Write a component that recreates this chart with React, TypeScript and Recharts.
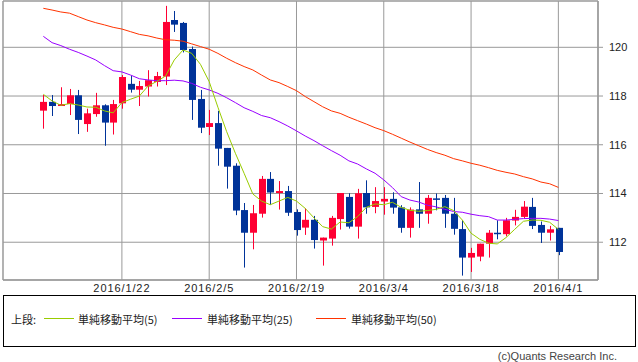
import React from 'react';
import {
  ComposedChart, Bar, Line, XAxis, YAxis, CartesianGrid, ReferenceArea,
} from 'recharts';

// ---- data (USD/JPY daily, 2016) ----
const dates = [
  '1/11','1/12','1/13','1/14','1/15','1/18','1/19','1/20','1/21','1/22',
  '1/25','1/26','1/27','1/28','1/29','2/1','2/2','2/3','2/4','2/5',
  '2/8','2/9','2/10','2/11','2/12','2/15','2/16','2/17','2/18','2/19',
  '2/22','2/23','2/24','2/25','2/26','2/29','3/1','3/2','3/3','3/4',
  '3/7','3/8','3/9','3/10','3/11','3/14','3/15','3/16','3/17','3/18',
  '3/21','3/22','3/23','3/24','3/25','3/28','3/29','3/30','3/31','4/1',
];
const openV = [
  117.40,117.76,117.59,117.67,118.03,116.85,117.26,117.62,116.91,117.70,
  118.50,118.26,118.39,118.58,118.80,121.12,121.00,119.93,117.88,116.73,
  116.89,115.87,115.14,113.32,112.39,113.17,114.60,114.02,114.10,113.24,
  112.60,112.92,112.07,112.15,112.95,113.86,112.64,114.02,113.45,113.67,
  113.78,113.43,112.59,113.35,113.17,113.80,113.82,113.17,112.54,111.37,
  111.41,111.94,112.39,112.33,112.89,113.04,113.45,112.71,112.39,112.59,
];
const highV = [
  118.04,118.04,118.36,118.29,118.25,117.48,118.13,117.66,117.84,118.86,
  118.82,118.62,119.06,118.99,121.70,121.49,121.04,120.03,118.25,117.43,
  117.39,115.87,115.24,113.61,113.53,114.72,114.88,114.51,114.31,113.35,
  113.39,113.08,112.19,113.08,114.02,114.01,114.19,114.54,114.26,114.26,
  114.05,113.52,113.43,114.47,113.94,114.00,113.94,113.82,112.90,111.77,
  111.94,112.50,112.90,113.00,113.33,113.69,113.82,112.85,112.67,112.59,
];
const lowV = [
  116.66,117.18,117.59,117.22,116.44,116.53,117.15,115.96,116.42,117.48,
  118.14,117.59,117.98,118.39,118.45,120.63,119.79,117.02,116.48,116.40,
  115.14,114.20,113.11,110.96,111.71,113.01,113.54,113.34,113.08,112.27,
  112.30,111.74,111.04,111.86,112.52,112.56,112.15,113.17,113.19,113.13,
  113.17,112.39,112.19,112.59,112.76,113.31,112.59,112.31,110.63,110.78,
  111.22,111.37,112.12,112.24,112.69,112.98,112.54,111.97,112.07,111.47,
];
const closeV = [
  117.76,117.59,117.67,118.03,117.02,117.29,117.62,116.91,117.67,118.78,
  118.26,118.41,118.65,118.82,121.04,120.93,119.89,117.84,116.70,116.89,
  115.84,115.10,113.30,112.39,113.19,114.60,114.04,114.10,113.21,112.50,
  112.92,112.09,112.19,113.00,114.02,112.64,114.01,113.43,113.69,113.78,
  113.42,112.59,113.34,113.17,113.82,113.78,113.17,112.55,111.37,111.56,
  111.94,112.39,112.37,112.90,113.04,113.46,112.67,112.39,112.53,111.60,
];
const ma5 = [
  118.07,117.80,117.62,117.69,117.63,117.55,117.54,117.39,117.31,117.73,
  117.87,118.00,118.41,118.60,118.82,119.48,119.89,119.75,119.30,118.59,
  117.54,116.54,115.65,114.83,113.98,113.69,113.54,113.69,113.84,113.69,
  113.39,113.00,112.64,112.54,112.83,112.80,113.05,113.43,113.57,113.54,
  113.64,113.43,113.31,113.27,113.30,113.35,113.46,113.30,112.91,112.37,
  112.12,111.96,111.93,112.19,112.53,112.86,112.91,112.90,112.82,112.53,
];
const ma25 = [
  120.45,120.19,120.07,119.92,119.79,119.64,119.48,119.25,119.04,118.99,
  118.86,118.71,118.66,118.63,118.63,118.65,118.62,118.52,118.36,118.25,
  118.11,117.93,117.73,117.52,117.37,117.20,117.11,116.95,116.77,116.57,
  116.36,116.17,115.96,115.76,115.57,115.34,115.21,115.01,114.83,114.56,
  114.24,113.87,113.73,113.65,113.52,113.45,113.35,113.26,113.23,113.15,
  113.09,113.05,112.91,112.91,112.94,112.97,112.98,112.98,112.95,112.89,
];
const ma50 = [
  121.60,121.53,121.45,121.40,121.26,121.12,121.01,120.92,120.82,120.75,
  120.64,120.53,120.47,120.38,120.31,120.29,120.25,120.14,120.03,119.92,
  119.75,119.55,119.37,119.21,119.07,118.86,118.66,118.55,118.39,118.22,
  117.98,117.77,117.56,117.39,117.29,117.13,116.99,116.85,116.70,116.58,
  116.43,116.27,116.11,115.96,115.81,115.68,115.57,115.43,115.34,115.24,
  115.16,115.06,114.95,114.87,114.80,114.69,114.60,114.47,114.40,114.25,
];
const xTickIdx = [9, 19, 29, 39, 49, 59];
const yTicks = [112, 114, 116, 118, 120];
const legendLabels = ['単純移動平均(5)', '単純移動平均(25)', '単純移動平均(50)'];

const X_MIN = -4.62;
const X_MAX = 63.54;
const Y_MIN = 110.45;
const Y_MAX = 121.90;

const UP = '#FF0033';
const DOWN = '#003399';
const C5 = '#99CC00';
const C25 = '#9900FF';
const C50 = '#FF3300';
const GRID = '#999999';

const data = dates.map((d, i) => ({
  i,
  date: d,
  open: openV[i],
  high: highV[i],
  low: lowV[i],
  close: closeV[i],
  ma5: ma5[i],
  ma25: ma25[i],
  ma50: ma50[i],
}));

const Candle = (props: any) => {
  const { x, y, width, height, payload } = props;
  if (x == null || y == null || !payload) return null;
  const top = Math.min(y, y + height);
  const bot = Math.max(y, y + height);
  const range = payload.high - payload.low;
  const ppu = range > 0 ? (bot - top) / range : 0;
  const cx = Math.round(x + width / 2) + 0.5;
  const yO = top + (payload.high - payload.open) * ppu;
  const yC = top + (payload.high - payload.close) * ppu;
  const up = payload.close >= payload.open;
  const col = up ? UP : DOWN;
  const bTop = Math.min(yO, yC);
  const bH = Math.max(1.5, Math.abs(yO - yC));
  return (
    <g>
      <line x1={cx} x2={cx} y1={top} y2={bot} stroke={col} strokeWidth={1} />
      <rect x={cx - 3.5} y={bTop} width={7} height={bH} fill={col} />
    </g>
  );
};

const XTick = (p: any) => {
  const v = p.payload?.value;
  return (
    <text
      x={p.x}
      y={p.y}
      dy={9}
      textAnchor="middle"
      fontSize={11}
      fontFamily="Liberation Sans, Arial, sans-serif"
      letterSpacing={0.9}
      fill="#222"
    >
      {'2016/' + dates[v]}
    </text>
  );
};

export default function App() {
  return (
    <div
      style={{
        position: 'absolute',
        left: 0,
        top: 0,
        width: 638,
        height: 362,
        background: '#fff',
        fontFamily: '"Noto Sans CJK JP", "Liberation Sans", sans-serif',
      }}
    >
      <ComposedChart
        width={638}
        height={300}
        data={data}
        margin={{ top: 1, right: 0, left: 3, bottom: 0 }}
      >
        <CartesianGrid stroke={GRID} strokeWidth={1} />
        <XAxis
          type="number"
          dataKey="i"
          domain={[X_MIN, X_MAX]}
          allowDataOverflow
          ticks={xTickIdx}
          tick={<XTick />}
          tickLine={false}
          tickSize={0}
          tickMargin={3}
          axisLine={{ stroke: GRID }}
          height={20}
          interval={0}
        />
        <YAxis
          orientation="right"
          type="number"
          domain={[Y_MIN, Y_MAX]}
          allowDataOverflow
          ticks={yTicks}
          width={40}
          tickSize={5}
          tickMargin={6}
          tickLine={{ stroke: GRID }}
          axisLine={{ stroke: GRID }}
          tick={{ fontSize: 11, fill: '#222', fontFamily: 'Liberation Sans, Arial, sans-serif' }}
          interval={0}
        />
        <ReferenceArea
          x1={X_MIN}
          x2={X_MAX}
          y1={Y_MIN}
          y2={Y_MAX}
          fill="none"
          fillOpacity={0}
          stroke={GRID}
          strokeOpacity={1}
        />
        <Bar
          dataKey={(d: any) => [d.low, d.high]}
          barSize={7}
          shape={<Candle />}
          isAnimationActive={false}
        />
        <Line type="linear" dataKey="ma50" stroke={C50} strokeWidth={1} dot={false} isAnimationActive={false} />
        <Line type="linear" dataKey="ma25" stroke={C25} strokeWidth={1} dot={false} isAnimationActive={false} />
        <Line type="linear" dataKey="ma5" stroke={C5} strokeWidth={1} dot={false} isAnimationActive={false} />
      </ComposedChart>

      <div
        style={{
          position: 'absolute',
          left: 3,
          top: 295,
          width: 631,
          height: 50,
          border: '1px solid #000',
          fontSize: 11,
          color: '#222',
        }}
      >
        <span style={{ position: 'absolute', left: 7, top: 16, lineHeight: '14px' }}>上段:</span>
        {[
          { l: 40, t: 74, c: C5 },
          { l: 168, t: 203, c: C25 },
          { l: 312, t: 347, c: C50 },
        ].map((it, k) => (
          <React.Fragment key={k}>
            <div
              style={{
                position: 'absolute',
                left: it.l,
                top: 22,
                width: 30,
                height: 1,
                background: it.c,
              }}
            />
            <span style={{ position: 'absolute', left: it.t, top: 16, lineHeight: '14px', whiteSpace: 'nowrap' }}>
              {legendLabels[k]}
            </span>
          </React.Fragment>
        ))}
      </div>
      <div
        style={{
          position: 'absolute',
          left: 480,
          width: 137,
          top: 350,
          textAlign: 'right',
          fontSize: 11,
          lineHeight: '12px',
          color: '#444',
          fontFamily: 'Liberation Sans, Arial, sans-serif',
        }}
      >
        (c)Quants Research Inc.
      </div>
    </div>
  );
}
